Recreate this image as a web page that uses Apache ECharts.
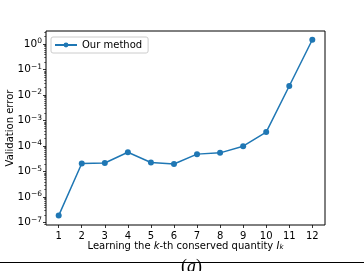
<!DOCTYPE html>
<html><head><meta charset="utf-8">
<script src="https://cdn.jsdelivr.net/npm/echarts@6/dist/echarts.min.js"></script>
<style>html,body{margin:0;padding:0;background:#fff}#c{width:364px;height:271px}</style>
</head><body><div id="c"></div>
<script>
const categories = [1,2,3,4,5,6,7,8,9,10,11,12];
const errors = [1.9e-7, 2.1e-5, 2.2e-5, 5.8e-5, 2.3e-5, 2.0e-5, 4.9e-5, 5.5e-5, 1.0e-4, 3.6e-4, 2.3e-2, 1.5];
const yTickExponents = [-7,-6,-5,-4,-3,-2,-1,0];
const seriesName = 'Our method';

const yMin = -7.09, yMax = 0.52;
const minorTicks = [];
for (let n = -8; n <= 0; n++) for (let k = 2; k <= 9; k++) {
  const v = n + Math.log10(k);
  if (v > yMin && v < yMax) minorTicks.push(v);
}
const font = 'DejaVu Sans';
const chart = echarts.init(document.getElementById('c'), null, {renderer:'canvas'});
chart.setOption({
  animation: false,
  grid: {left:46, right:39, top:31, bottom:46, containLabel:false, outerBoundsMode:'none', show:true, borderColor:'#000', borderWidth:1, backgroundColor:'transparent'},
  legend: {
    left:51, top:37, padding:[3,6,3,3], itemWidth:22, itemHeight:6,
    borderColor:'#ccc', borderWidth:1, borderRadius:2, backgroundColor:'#fff',
    textStyle:{fontFamily:font, fontSize:10, color:'#000'},
    data:[seriesName]
  },
  xAxis: {
    type:'value', min:0.45, max:12.55,
    name:'Learning the {i|k}-th conserved quantity {i|I}{sub|k}',
    nameLocation:'middle', nameGap:16, nameMoveOverlap:false,
    nameTextStyle:{fontFamily:font, fontSize:10, color:'#000',
      rich:{i:{fontFamily:font, fontStyle:'italic', fontSize:10}, sub:{fontFamily:font, fontStyle:'italic', fontSize:7, verticalAlign:'bottom', lineHeight:7}}},
    axisLine:{show:false, onZero:false}, splitLine:{show:false},
    axisTick:{show:true, length:3, customValues:categories, lineStyle:{color:'#000', width:0.8}},
    axisLabel:{customValues:categories, fontFamily:font, fontSize:10, color:'#000', margin:6}
  },
  yAxis: [{
    type:'value', min:yMin, max:yMax,
    name:'Validation error', nameLocation:'middle', nameGap:31, nameMoveOverlap:false,
    nameTextStyle:{fontFamily:font, fontSize:10, color:'#000'},
    axisLine:{show:false, onZero:false}, splitLine:{show:false},
    axisTick:{show:true, length:3, customValues:yTickExponents, lineStyle:{color:'#000', width:0.8}},
    axisLabel:{customValues:yTickExponents, margin:4, fontFamily:font, color:'#000',
      formatter: v => '{b|10}{s|' + String(Math.round(v)).replace('-', '\u2212') + '}',
      rich:{b:{fontFamily:font, fontSize:10.5, lineHeight:14}, s:{fontFamily:font, fontSize:7.5, lineHeight:8, verticalAlign:'top'}}}
  },{
    type:'value', min:yMin, max:yMax, position:'left',
    axisLine:{show:false, onZero:false}, splitLine:{show:false},
    axisTick:{show:true, length:1.8, customValues:minorTicks, lineStyle:{color:'#000', width:0.6}},
    axisLabel:{show:false}
  }],
  series: [{
    name:seriesName, type:'line', yAxisIndex:0,
    data: categories.map((c,i)=>[c, Math.log10(errors[i])]),
    symbol:'circle', symbolSize:6, showSymbol:true,
    lineStyle:{color:'#1f77b4', width:1.5},
    itemStyle:{color:'#1f77b4'}
  }],
  graphic: [
    {type:'line', shape:{x1:0, y1:262.5, x2:364, y2:262.5}, style:{stroke:'#000', lineWidth:1}},
    {type:'text', left:181, top:258, z:10, style:{text:'{p|(}{a|a}{p|)}', rich:{p:{fontFamily:'Liberation Serif', fontSize:18, fill:'#000'}, a:{fontFamily:'Liberation Serif', fontStyle:'italic', fontSize:18, fill:'#000'}}}}
  ]
});
</script></body></html>
